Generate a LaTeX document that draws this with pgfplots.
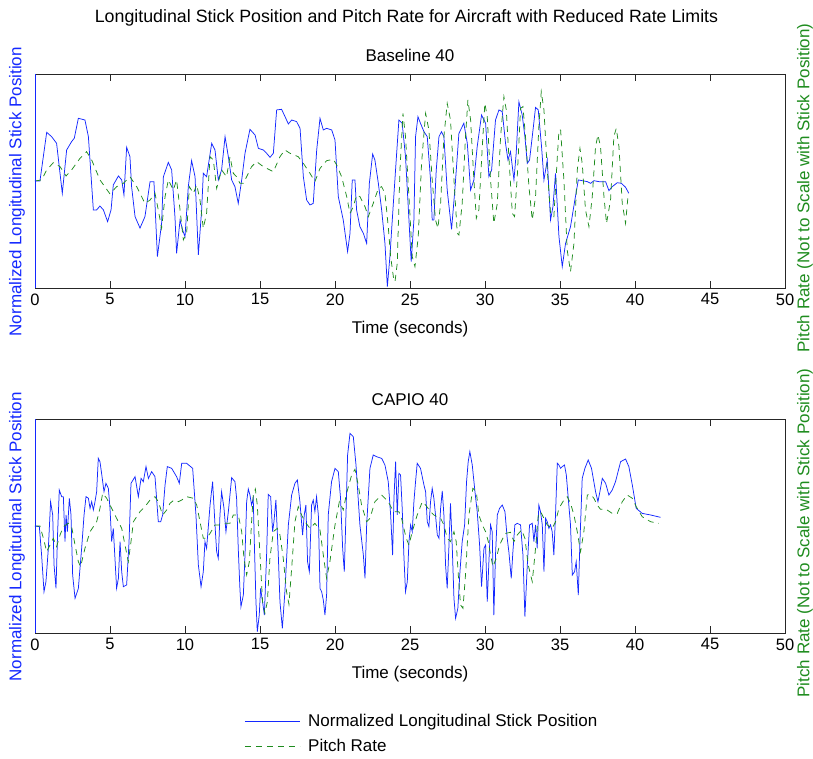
\documentclass[border=0pt]{standalone}
\usepackage{pgfplots}
\pgfplotsset{compat=1.18}
\usepackage{fontspec}
\setmainfont{Liberation Sans}
\definecolor{mblue}{RGB}{20,40,255}
\definecolor{mgreen}{RGB}{30,140,30}
\newcommand{\fs}{\fontsize{17}{20}\selectfont}
\newcommand{\ft}{\fontsize{16.5}{19}\selectfont}
\pgfplotsset{
 myax/.style={
  scale only axis, width=750pt, height=214pt,
  xmin=0, xmax=50, ymin=-1, ymax=1,
  xtick={0,5,...,50}, ytick=\empty,
  tick align=inside, xtick pos=both, major tick length=7pt,
  axis line style={black!85, line width=0.6pt},
  every tick/.style={black!85, line width=0.6pt},
  tick label style={font=\ft},
  xticklabel style={yshift=-2pt},
  /pgf/number format/assume math mode=true,
  xlabel={Time (seconds)},
  xlabel style={at={(axis description cs:0.5,0)}, anchor=center, yshift=-41pt, font=\fs},
  ylabel={Normalized Longitudinal Stick Position},
  ylabel style={at={(axis description cs:-0.024,0.45)}, anchor=center, font=\fs, text=mblue},
  title style={at={(axis description cs:0.5,1)}, anchor=center, yshift=13pt, font=\fs},
  stick/.style={mblue, line width=0.75pt},
  pitch/.style={mgreen, line width=0.75pt, dash pattern=on 6pt off 5pt},
 }
}
\begin{document}
\begin{tikzpicture}
\useasboundingbox (0,0) rectangle (813pt,758pt);
\node[font=\fontsize{17.8}{20}\selectfont] at (406.5pt,740pt) {Longitudinal Stick Position and Pitch Rate for Aircraft with Reduced Rate Limits};
\begin{axis}[myax, name=topax, at={(35pt,470pt)}, anchor=south west, title={Baseline 40}]
\addplot[stick] coordinates {(0,0) (0.33,0) (0.78,0.455) (1.11,0.414) (1.44,0.352) (1.82,-0.115) (2.11,0.29) (2.44,0.368) (2.62,0.40) (2.89,0.586) (3.33,0.57) (3.56,0.414) (3.89,-0.27) (4.11,-0.27) (4.33,-0.234) (4.56,-0.27) (4.84,-0.38) (5.07,-0.27) (5.22,-0.037) (5.56,0.047) (5.78,0.01) (5.93,-0.13) (6.11,0.315) (6.33,0.227) (6.44,-0.053) (6.67,-0.333) (7.0,-0.44) (7.33,-0.333) (7.67,-0.006) (7.93,-0.006) (8.16,-0.707) (8.44,-0.396) (8.56,0.04) (8.89,0.174) (9.11,0.103) (9.33,-0.333) (9.44,-0.676) (9.67,-0.364) (9.84,-0.458) (10.0,-0.52) (10.22,-0.053) (10.44,0.19) (10.67,0.04) (10.89,-0.69) (11.11,-0.27) (11.22,0.072) (11.44,0.04) (11.78,0.352) (12.0,0.29) (12.22,0.01) (12.44,0.103)
(12.67,0.414) (12.89,0.227) (13.11,0.01) (13.33,-0.053) (13.55,-0.209) (13.78,0.01) (14.0,0.259) (14.33,0.483) (14.67,0.43) (14.89,0.305) (15.22,0.29) (15.44,0.259) (15.67,0.221) (15.89,0.259) (16.11,0.664) (16.44,0.67) (16.67,0.601) (16.89,0.533) (17.11,0.57) (17.44,0.555) (17.67,0.492) (17.89,0.04) (18.11,-0.178) (18.33,-0.224) (18.55,-0.209) (18.78,0.29) (19.0,0.586) (19.22,0.477) (19.44,0.492) (19.78,0.477) (20.0,0.383) (20.22,-0.146) (20.55,-0.364) (20.84,-0.66) (21.0,-0.489) (21.15,0.01) (21.33,0.01) (21.44,-0.271) (21.66,-0.427) (21.89,-0.489) (22.11,-0.583) (22.29,-0.022) (22.51,0.252) (22.66,0.196) (22.89,-0.022) (23.11,-0.271) (23.33,-0.583) (23.49,-0.988) (23.66,-0.707) (23.89,-0.209) (24.11,0.259)
(24.26,0.57) (24.48,0.539) (24.70,0.227) (24.93,-0.364) (25.08,-0.754) (25.26,-0.364) (25.37,0.414) (25.53,0.601) (25.70,0.539) (25.93,0.461) (26.15,0.414) (26.37,0.01) (26.48,-0.364) (26.59,-0.364) (26.75,0.103) (26.93,0.414) (27.1,0.461) (27.26,0.414) (27.48,-0.084) (27.77,-0.452) (27.99,-0.084) (28.26,0.445) (28.59,0.539) (28.82,0.352) (29.04,-0.084) (29.26,0.01) (29.48,0.321) (29.77,0.617) (30.04,0.539) (30.26,0.04) (30.44,0.103) (30.70,0.57) (30.93,0.664) (31.15,0.648) (31.37,0.352) (31.53,0.196) (31.70,0.274) (31.93,0.01) (32.08,0.259) (32.26,0.741) (32.48,0.617) (32.66,0.414) (32.82,0.165) (32.97,0.196) (33.15,0.414) (33.37,0.688) (33.55,0.664) (33.77,0.321) (33.93,0.01) (34.15,0.196) (34.37,-0.364) (34.53,-0.24) (34.70,0.072) (34.93,-0.52) (35.15,-0.8) (35.37,-0.583) (35.70,-0.427) (35.99,-0.178) (36.22,0.01) (36.48,0.003) (36.82,-0.006) (37.04,-0.022) (37.26,0.003) (37.59,-0.006) (38.04,-0.006) (38.26,-0.09) (38.48,-0.053) (38.82,-0.016) (39.1,-0.022) (39.37,-0.059) (39.59,-0.115)};
\addplot[pitch] coordinates {(0,0) (0.44,0.01) (0.78,0.103) (1.22,0.171) (1.67,0.134) (2.07,0.047) (2.44,0.103) (3.0,0.212) (3.44,0.274) (3.78,0.196) (4.33,0.01) (5.0,-0.121) (5.44,-0.053) (5.89,-0.022) (6.33,0.04) (6.78,-0.053) (7.33,-0.209) (7.67,-0.178) (8.0,-0.115) (8.22,-0.271) (8.44,-0.442) (8.67,-0.146) (8.89,0.01) (9.22,-0.084) (9.44,0.01) (9.67,-0.271) (9.89,-0.551) (10.11,-0.489) (10.29,-0.053) (10.56,-0.115) (10.78,-0.037) (11.0,-0.178) (11.22,-0.442) (11.44,-0.302) (11.67,0.227) (11.89,0.196) (12.11,-0.069) (12.44,0.103)
(12.77,0.04) (13.0,0.227) (13.22,0.072) (13.44,0.04) (13.66,-0.022) (13.89,-0.022) (14.11,0.04) (14.44,0.134) (14.77,0.181) (15.22,0.134) (15.89,0.087) (16.33,0.227) (16.66,0.29) (17.0,0.259) (17.55,0.227) (17.89,0.165) (18.33,0.072) (18.66,-0.006) (19.0,0.118) (19.44,0.19) (19.89,0.202) (20.11,0.15) (20.44,0.04) (20.78,-0.146) (21.0,-0.302) (21.22,-0.24) (21.44,-0.131) (21.66,-0.146) (22.0,-0.24) (22.22,-0.333) (22.55,-0.209) (22.89,-0.069) (23.11,-0.053) (23.33,-0.115) (23.55,-0.427) (23.71,-0.707) (23.89,-0.894) (24.0,-0.941) (24.15,-0.769) (24.33,0.103)
(24.53,0.632) (24.70,0.414) (24.93,-0.146) (25.15,-0.707) (25.33,-0.8) (25.55,-0.52) (25.77,0.165) (26.04,0.632) (26.26,0.477) (26.48,0.01) (26.70,-0.364) (26.86,-0.442) (27.04,-0.209) (27.26,0.414) (27.48,0.726) (27.70,0.57) (27.93,0.01) (28.15,-0.489) (28.26,-0.505) (28.48,-0.209) (28.70,0.414) (28.86,0.757) (29.04,0.57) (29.26,0.01) (29.42,-0.349) (29.59,-0.271) (29.82,0.321) (29.99,0.726) (30.15,0.601) (30.37,0.01) (30.59,-0.396) (30.82,-0.209) (31.04,0.414) (31.26,0.788) (31.42,0.664) (31.59,0.227) (31.82,-0.302) (31.97,-0.333) (32.15,0.04) (32.37,0.679) (32.53,0.695) (32.70,0.414) (32.93,-0.053) (33.15,-0.364) (33.37,-0.146) (33.59,0.508) (33.75,0.835) (33.93,0.664) (34.15,0.103) (34.37,-0.302) (34.59,-0.333) (34.77,0.103) (34.93,0.477) (35.04,0.477) (35.26,0.01) (35.48,-0.645) (35.70,-0.847) (35.93,-0.583) (36.15,0.103) (36.33,0.305) (36.48,0.165) (36.70,-0.271) (36.93,-0.427) (37.15,-0.146) (37.37,0.321) (37.53,0.43) (37.70,0.321) (37.93,-0.146) (38.10,-0.396) (38.37,-0.178) (38.59,0.414) (38.75,0.492) (38.93,0.321) (39.15,-0.209) (39.37,-0.396) (39.55,-0.115)};
\draw[mblue, line width=0.8pt] (rel axis cs:0,0) -- (rel axis cs:0,1);
\end{axis}
\node[rotate=90, font=\fs, text=mgreen] at ([xshift=20pt,yshift=-7pt]topax.east) {Pitch Rate (Not to Scale with Stick Position)};
\begin{axis}[myax, name=botax, at={(35pt,125pt)}, anchor=south west, title={CAPIO 40},
  legend style={at={(axis description cs:0.275,-0.36)}, anchor=north west, draw=none, fill=none, font=\fs, row sep=7pt,
    /tikz/every odd column/.append style={column sep=6pt}},
  legend cell align=left,
  legend image code/.code={\draw[#1] (0pt,0pt) -- (55pt,0pt);}]
\addplot[stick] coordinates {(0,0) (0.29,-0.006) (0.44,-0.271) (0.6,-0.614) (0.73,-0.52) (0.89,-0.209) (1.04,0.227) (1.18,0.103) (1.27,-0.364) (1.4,-0.583) (1.51,-0.053) (1.62,0.336) (1.78,0.274) (1.89,0.274) (2.0,-0.146) (2.07,0.103) (2.16,-0.053) (2.29,0.259) (2.4,0.103) (2.51,-0.458) (2.67,-0.676) (2.89,-0.583) (3.11,-0.209) (3.27,0.103) (3.4,0.274) (3.56,0.259) (3.67,0.165) (3.78,0.227) (3.89,0.15) (4.0,0.227) (4.11,0.321) (4.22,0.632) (4.33,0.601) (4.44,0.492) (4.6,0.321) (4.73,0.399) (4.89,0.352) (5.0,0.165) (5.11,-0.146) (5.22,-0.022) (5.33,-0.302) (5.44,-0.583) (5.56,-0.489) (5.67,-0.146) (5.78,-0.427) (5.89,-0.567) (6.11,-0.551) (6.27,-0.146) (6.4,0.399) (6.67,0.461) (6.89,0.274) (7.07,0.445) (7.22,0.414) (7.4,0.555) (7.56,0.445) (7.78,0.508) (8.0,0.461) (8.22,0.04) (8.38,0.04) (8.51,0.103) (8.67,0.383) (8.82,0.555) (9.11,0.539) (9.44,0.461) (9.62,0.399) (9.78,0.586) (10.11,0.586) (10.51,0.539) (10.73,0.103) (10.89,-0.364) (11.07,-0.567) (11.22,-0.427) (11.33,-0.146) (11.44,-0.209) (11.67,0.196) (11.84,0.414) (12.0,0.01) (12.11,-0.24) (12.22,-0.302) (12.33,0.103) (12.44,0.321) (12.6,0.165) (12.73,-0.053) (12.89,0.134)
(13.11,0.452) (13.33,0.414) (13.44,0.259) (13.55,-0.209) (13.66,-0.583) (13.73,-0.754) (13.89,-0.645) (14.0,-0.271) (14.11,0.227) (14.22,0.346) (14.33,0.29) (14.44,0.196) (14.55,0.259) (14.62,-0.146) (14.73,-0.707) (14.82,-0.988) (14.95,-0.832) (15.04,-0.583) (15.17,-0.707) (15.29,-0.832) (15.44,-0.271) (15.55,0.296) (15.71,0.274) (15.84,-0.053) (15.93,0.04) (16.06,0.243) (16.22,-0.271) (16.33,-0.707) (16.49,-0.956) (16.66,-0.614) (16.89,0.01) (17.11,0.29) (17.33,0.399) (17.49,0.43) (17.66,0.227) (17.84,-0.084) (17.95,0.103) (18.06,0.196) (18.17,-0.333) (18.29,-0.427) (18.44,0.196) (18.55,0.243) (18.66,0.134) (18.77,0.274) (18.89,0.103) (19.0,-0.583) (19.11,-0.614) (19.22,-0.692) (19.33,-0.832) (19.44,-0.645) (19.55,0.103) (19.77,0.414) (20.0,0.539) (20.22,0.508) (20.37,0.259) (20.51,-0.209) (20.62,-0.427) (20.73,0.103) (20.84,0.664) (21.0,0.866) (21.22,0.835) (21.4,0.57) (21.66,0.01) (21.89,-0.271) (22.0,-0.489) (22.11,0.01) (22.33,0.539) (22.55,0.664) (22.77,0.648) (23.11,0.632) (23.33,0.57) (23.55,0.414) (23.71,0.103) (23.84,-0.271) (23.93,0.259) (24.04,0.601) (24.15,0.103)
(24.26,0.492) (24.37,0.477) (24.48,0.165) (24.59,-0.271) (24.70,-0.614) (24.82,-0.52) (24.93,-0.146) (25.04,0.01) (25.15,-0.053) (25.26,0.227) (25.37,0.414) (25.48,0.586) (25.70,0.539) (25.93,0.383) (26.04,0.321) (26.15,0.04) (26.26,-0.006) (26.37,0.227) (26.48,0.352) (26.59,0.259) (26.70,0.103) (26.82,-0.084) (26.93,-0.115) (27.04,0.165) (27.15,0.327) (27.26,0.103) (27.37,-0.364) (27.48,-0.583) (27.59,-0.209) (27.70,0.212) (27.82,-0.209) (27.93,-0.676) (28.04,-0.863) (28.19,-0.769) (28.33,-0.427) (28.48,-0.146) (28.64,0.01) (28.77,0.414) (28.88,0.601) (28.99,0.695) (29.15,0.57) (29.33,0.321) (29.48,0.134) (29.64,-0.178) (29.77,-0.567) (29.93,-0.209) (30.04,-0.178) (30.15,-0.707) (30.26,-0.333) (30.37,0.01) (30.48,-0.053) (30.59,-0.832) (30.70,-0.271) (30.82,0.103) (30.97,0.165) (31.15,0.196) (31.33,0.134) (31.48,-0.115) (31.59,-0.24) (31.75,-0.489) (31.86,-0.24) (31.99,0.01) (32.15,0.025) (32.37,0.01) (32.53,-0.271) (32.66,-0.847) (32.82,-0.364) (32.97,0.01) (33.15,0.025) (33.26,-0.146) (33.37,0.01) (33.48,-0.209) (33.59,0.196) (33.70,0.134) (33.82,0.01) (33.93,-0.427) (34.04,0.072) (34.15,0.04) (34.26,-0.022) (34.37,0.01) (34.48,-0.053) (34.59,-0.271) (34.70,0.103) (34.82,0.586) (34.93,0.57) (35.04,0.539) (35.15,0.555) (35.30,0.57) (35.42,0.477) (35.55,0.259) (35.70,0.01) (35.82,-0.458) (35.97,-0.427) (36.08,-0.333) (36.22,-0.645) (36.33,-0.146) (36.48,0.445) (36.66,0.539) (36.88,0.617) (37.10,0.539) (37.37,0.321) (37.53,0.227) (37.66,0.321) (37.82,0.445) (38.04,0.399) (38.26,0.29) (38.48,0.336) (38.70,0.414) (39.04,0.601) (39.37,0.626) (39.59,0.555) (39.82,0.383) (40.08,0.165) (40.48,0.118) (41.04,0.103) (41.70,0.081)};
\addlegendentry{Normalized Longitudinal Stick Position}
\addplot[pitch] coordinates {(0,0) (0.33,0) (0.56,-0.115) (0.78,-0.24) (1.0,-0.178) (1.22,-0.115) (1.44,-0.193) (1.67,-0.084) (1.89,-0.006) (2.22,0.025) (2.44,-0.006) (2.67,-0.178) (2.89,-0.333) (3.04,-0.38) (3.33,-0.209) (3.67,-0.053) (4.11,0.04) (4.33,0.165) (4.51,0.305) (4.78,0.259) (5.11,0.165) (5.44,0.072) (5.78,-0.022) (6.0,-0.178) (6.22,-0.333) (6.4,-0.146) (6.56,0.04) (6.78,0.087) (7.0,0.134) (7.33,0.181) (7.67,0.243) (8.0,0.274) (8.22,0.227) (8.51,0.103) (8.78,0.15) (9.0,0.212) (9.27,0.243) (9.56,0.227) (9.78,0.243) (10.11,0.274) (10.56,0.259) (10.78,0.196) (11.0,0.04) (11.22,-0.115) (11.44,-0.115) (11.67,-0.069) (12.0,0.01) (12.33,0.01) (12.67,0.025) (13.0,0.025)
(13.22,0.103) (13.55,0.103) (13.78,-0.053) (13.93,-0.302) (14.11,-0.458) (14.29,-0.333) (14.44,0.04) (14.55,0.29) (14.69,0.346) (14.82,0.196) (15.0,-0.271) (15.17,-0.707) (15.33,-0.816) (15.49,-0.707) (15.66,-0.302) (15.89,-0.053) (16.15,-0.022) (16.33,-0.084) (16.55,-0.302) (16.77,-0.614) (16.93,-0.732) (17.11,-0.396) (17.33,0.04) (17.55,0.181) (17.77,0.103) (18.0,0.04) (18.33,-0.022) (18.66,0.025) (19.0,-0.037) (19.22,-0.271) (19.44,-0.489) (19.66,-0.333) (20.0,0.01) (20.29,0.227) (20.55,0.15) (20.77,0.305) (21.11,0.477) (21.33,0.53) (21.55,0.383) (21.77,0.196) (22.11,0.04) (22.33,0.072) (22.66,0.227) (23.11,0.29) (23.55,0.227) (23.89,0.134) (24.11,0.134)
(24.26,0.134) (24.44,0.072) (24.59,-0.022) (24.75,-0.115) (24.93,-0.178) (25.15,-0.053) (25.48,0.103) (25.82,0.227) (26.04,0.196) (26.37,0.134) (26.59,0.103) (26.82,0.087) (27.04,0.072) (27.26,0.01) (27.48,-0.115) (27.70,-0.146) (27.93,-0.053) (28.08,-0.146) (28.22,-0.458) (28.37,-0.738) (28.53,-0.769) (28.70,-0.458) (28.93,0.103) (29.19,0.352) (29.42,0.321) (29.59,0.103) (29.82,0.01) (30.04,-0.053) (30.22,-0.146) (30.37,-0.271) (30.53,-0.38) (30.75,-0.302) (30.97,-0.178) (31.19,-0.115) (31.37,-0.069) (31.70,-0.059) (31.93,-0.146) (32.15,-0.084) (32.44,-0.037) (32.66,-0.115) (32.88,-0.364) (33.15,-0.52) (33.37,-0.209) (33.55,0.103) (33.70,0.134) (33.93,0.072) (34.15,0.01) (34.48,-0.022) (34.70,0.04) (34.93,0.165) (35.26,0.243) (35.48,0.274) (35.70,0.212) (35.93,0.103) (36.15,-0.053) (36.37,-0.24) (36.59,-0.053) (36.82,0.29) (37.04,0.296) (37.26,0.259) (37.48,0.196) (37.70,0.156) (38.04,0.159) (38.48,0.118) (38.82,0.118) (39.15,0.227) (39.48,0.29) (39.82,0.259) (40.08,0.181) (40.48,0.087) (41.04,0.04) (41.59,0.025)};
\addlegendentry{Pitch Rate}
\draw[mblue, line width=0.8pt] (rel axis cs:0,0) -- (rel axis cs:0,1);
\end{axis}
\node[rotate=90, font=\fs, text=mgreen] at ([xshift=20pt,yshift=-7pt]botax.east) {Pitch Rate (Not to Scale with Stick Position)};
\end{tikzpicture}
\end{document}
